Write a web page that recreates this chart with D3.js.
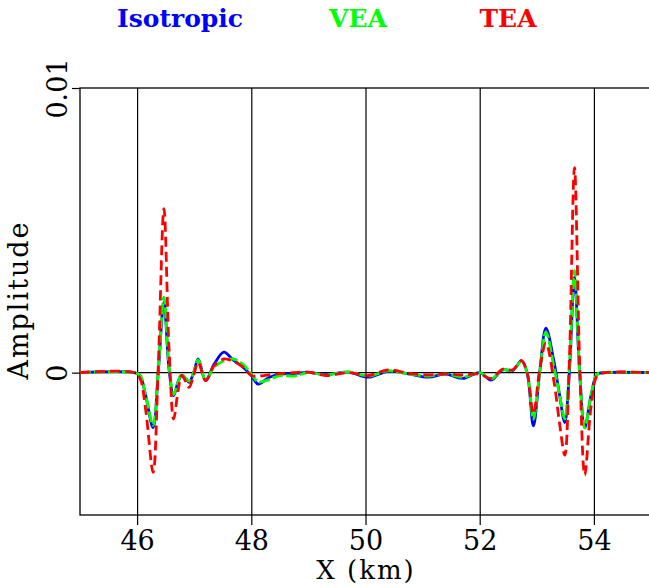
<!DOCTYPE html>
<meta charset="utf-8">
<style>
body{ margin: 0; background: white; }
svg{ display: block; font-family: "DejaVu Serif", serif; }
</style>
<body>
<div id="graph"></div>
<script src="https://cdn.jsdelivr.net/npm/d3@7"></script>
<script>

// offsets along the line (km), shared by all three traces
var xKm = [45, 45.95, 46.05, 46.15, 46.28, 46.37, 46.47, 46.56, 46.64, 46.72,
  46.78, 46.85, 46.91, 46.99, 47.07, 47.2, 47.35, 47.52, 47.68, 47.85,
  48.0, 48.12, 48.3, 48.5, 48.75, 49.0, 49.3, 49.7, 50.05, 50.4,
  50.75, 51.1, 51.4, 51.7, 52.0, 52.2, 52.4, 52.58, 52.73, 52.83,
  52.94, 53.05, 53.16, 53.3, 53.4, 53.49, 53.57, 53.66, 53.75, 53.84,
  53.95, 54.06, 54.2, 55]

var isotropic = [0, 0, -0.0001, -0.0008, -0.00193, 0, 0.00248, 0.0001, -0.00081, -0.0003,
  -0.0001, -0.0002, -0.00034, 0, 0.00048, -0.00028, 0.0003, 0.00072, 0.00045, 0.0002,
  -0.0001, -0.0004, -0.00018, -0.00005, -0.00003, 0.00001, -0.00007, 0.00002, -0.00016, 0.00005,
  -0.00004, -0.00016, -0.00005, -0.0002, 0, -0.00026, 0.0001, 0.00008, 0.00042, 0,
  -0.00187, 0, 0.00156, 0.0004, -0.0008, -0.00175, 0, 0.00336, 0, -0.00193,
  -0.0008, -0.00005, 0, 0]

var vea = [0, 0, -0.0001, -0.0008, -0.00185, 0.00005, 0.00265, 0.0002, -0.00077, -0.0003,
  -0.00005, -0.0002, -0.0003, 0, 0.00045, -0.00025, 0.0002, 0.00042, 0.00048, 0.0003,
  -0.00005, -0.00032, -0.00025, -0.0001, -0.00012, 0, -0.00008, 0.00003, -0.00012, 0.00006,
  -0.00004, -0.00012, -0.00004, -0.00016, 0, -0.00022, 0.0001, 0.00008, 0.0004, 0,
  -0.00163, 0, 0.00142, 0.0002, -0.0008, -0.00163, 0.0002, 0.00359, 0, -0.00195,
  -0.0008, -0.00005, 0, 0]

var tea = [0, 0, -0.0002, -0.0013, -0.0035, 0.0002, 0.00576, 0.0008, -0.00163, -0.0006,
  -0.0001, -0.0003, -0.00052, -0.0001, 0.00036, -0.00028, 0.00025, 0.00048, 0.0004, 0.0002,
  -0.0001, -0.00012, -0.00008, -0.00003, 0, 0.00002, -0.0001, 0, -0.0001, 0.0001,
  -0.00002, -0.00008, -0.00004, -0.00008, -0.00005, -0.0002, 0.00012, 0.0001, 0.00042, 0,
  -0.00145, 0.0001, 0.00105, -0.0003, -0.0018, -0.0029, 0.0004, 0.0072, 0.0004, -0.0036,
  -0.0012, -0.0001, 0, 0]

var xTicks = [46, 48, 50, 52, 54]
var yTicks = [0, 0.01]
var seriesNames = ['Isotropic', 'VEA', 'TEA']
var seriesColors = ['#0000ff', '#00ff00', '#ff0000']

var width = 649, height = 588
var m = {left: 80, top: 88, bottom: 515, right: 651}

var svg = d3.select('#graph').append('svg')
    .attr('width', width).attr('height', height)

var x = d3.scaleLinear().domain([45, 55]).range([m.left, m.right])
var y = d3.scaleLinear().domain([-0.005, 0.01]).range([m.bottom, m.top])

// frame
svg.append('rect')
    .attr('x', m.left).attr('y', m.top)
    .attr('width', m.right - m.left).attr('height', m.bottom - m.top)
    .attr('fill', 'none').attr('stroke', 'black').attr('stroke-width', 1.3)

// x grid + ticks
var xAxis = d3.axisBottom(x).tickValues(xTicks).tickSize(10).tickPadding(4)
var gx = svg.append('g').attr('transform', 'translate(0,' + m.bottom + ')').call(xAxis)
gx.select('.domain').remove()
gx.selectAll('line').attr('stroke', 'black').attr('stroke-width', 1.2)
  .attr('y1', -(m.bottom - m.top))
gx.selectAll('text').attr('fill', 'black')
  .style('font-family', '"DejaVu Serif", serif').style('font-size', '27px')
  .attr('dy', null).attr('y', 35)

// zero line across the panel
svg.append('line')
    .attr('x1', m.left).attr('x2', m.right)
    .attr('y1', y(0)).attr('y2', y(0))
    .attr('stroke', 'black').attr('stroke-width', 1.2)

// y ticks with rotated labels
var gy = svg.append('g').attr('transform', 'translate(' + m.left + ',0)')
    .call(d3.axisLeft(y).tickValues(yTicks).tickSize(8))
gy.select('.domain').remove()
gy.selectAll('line').attr('stroke', 'black').attr('stroke-width', 1.2)
gy.selectAll('text').remove()
gy.selectAll('.tick').append('text')
    .attr('transform', 'rotate(-90)')
    .attr('x', 0).attr('y', -13)
    .attr('text-anchor', 'middle')
    .attr('fill', 'black')
    .style('font-family', '"DejaVu Serif", serif')
    .style('font-size', '27px')
    .text(function(d){ return d === 0 ? '0' : '0.01' })

// traces
var line = d3.line()
    .x(function(d){ return x(d[0]) })
    .y(function(d){ return y(d[1]) })
    .curve(d3.curveCatmullRom.alpha(0.5))

var dashes = [null, '11,3', '10,5']
var traces = [isotropic, vea, tea]
traces.forEach(function(vals, i){
  svg.append('path')
      .datum(xKm.map(function(k, j){ return [k, vals[j]] }))
      .attr('d', line)
      .attr('fill', 'none')
      .attr('stroke', seriesColors[i])
      .attr('stroke-width', 2.8)
      .attr('stroke-dasharray', dashes[i])
})

// axis titles
svg.append('text')
    .attr('x', 366).attr('y', 579)
    .attr('text-anchor', 'middle')
    .style('font-size', '26px').style('letter-spacing', '2px')
    .text('X (km)')

svg.append('text')
    .attr('transform', 'translate(28,300) rotate(-90)')
    .attr('text-anchor', 'middle')
    .style('font-size', '27px').style('letter-spacing', '2px')
    .text('Amplitude')

// legend
var legendX = [180, 358, 508]
svg.selectAll('.legend').data(seriesNames).enter().append('text')
    .attr('class', 'legend')
    .attr('x', function(d, i){ return legendX[i] })
    .attr('y', 27)
    .attr('text-anchor', 'middle')
    .attr('fill', function(d, i){ return seriesColors[i] })
    .style('font-size', '25px').style('font-weight', 'bold')
    .text(function(d){ return d })

</script>
